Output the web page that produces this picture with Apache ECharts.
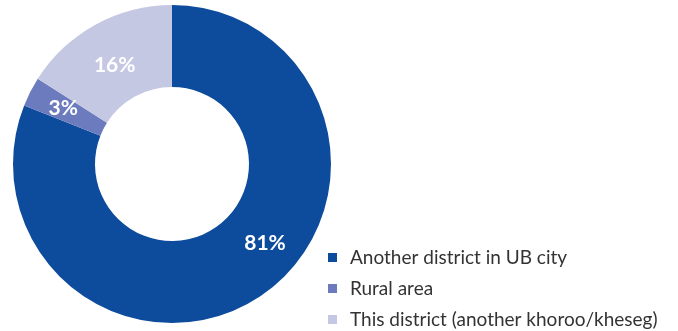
<!DOCTYPE html>
<html>
<head>
<meta charset="utf-8">
<script src="https://cdn.jsdelivr.net/npm/echarts@6/dist/echarts.min.js"></script>
<style>
  html, body { margin: 0; padding: 0; background: #fff; }
  #chart { width: 678px; height: 331px; }
</style>
</head>
<body>
<div id="chart"></div>
<script>
// Place of origin shares (percent)
const categories = ['Another district in UB city', 'Rural area', 'This district (another khoroo/kheseg)'];
const shares = [81, 3, 16];
const colors = ['#0d4c9c', '#6b7bbd', '#c5c8e3'];
const labelOffsets = [[25, -21], [-1, -1], [1, 7]];

const chart = echarts.init(document.getElementById('chart'));
chart.setOption({
  animation: false,
  legend: {
    orient: 'vertical',
    left: 323,
    top: 242,
    height: 90,
    itemWidth: 9,
    itemHeight: 9,
    itemGap: 10,
    icon: 'rect',
    textStyle: { fontFamily: 'Lato', fontSize: 19, lineHeight: 21, color: '#333', padding: [0, 0, 0, 8] },
    data: categories
  },
  series: [{
    type: 'pie',
    center: [172, 164],
    radius: [77, 159],
    startAngle: 90,
    clockwise: true,
    avoidLabelOverlap: false,
    label: {
      show: true,
      position: 'inside',
      formatter: '{c}%',
      color: '#fff',
      fontFamily: 'Lato',
      fontWeight: 'bold',
      fontSize: 21
    },
    labelLine: { show: false },
    emphasis: { disabled: true },
    data: categories.map((name, i) => ({
      name: name,
      value: shares[i],
      itemStyle: { color: colors[i] },
      label: { offset: labelOffsets[i] }
    }))
  }]
});
</script>
</body>
</html>
